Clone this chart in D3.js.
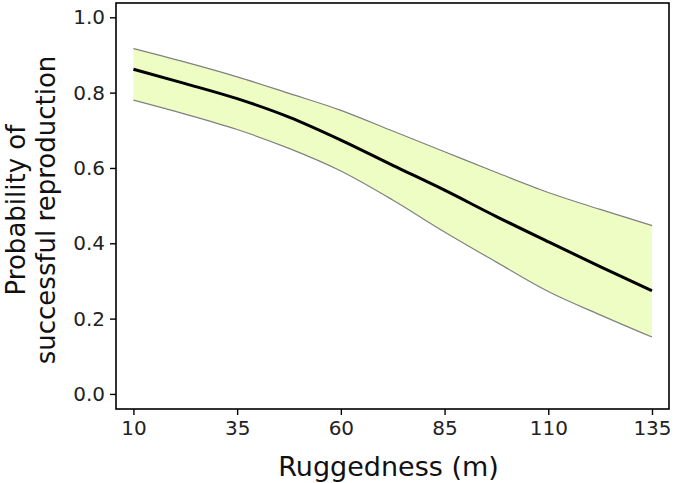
<!DOCTYPE html>
<html>
<head>
<meta charset="utf-8">
<script src="https://cdn.jsdelivr.net/npm/d3@7"></script>
<style>
  body { margin: 0; background: #fff; }
  text { font-family: "DejaVu Sans", Verdana, sans-serif; }
</style>
</head>
<body>
<svg id="chart" width="675" height="483"></svg>
<script>
// ruggedness (m) at which the fitted curve was read
const ruggedness = [10, 22.5, 35, 47.5, 60, 72.5, 85, 97.5, 110, 122.5, 135];
// fitted probability
const fit = [0.862, 0.824, 0.784, 0.735, 0.674, 0.607, 0.541, 0.471, 0.404, 0.338, 0.274];
// confidence band
const upper = [0.917, 0.881, 0.842, 0.798, 0.753, 0.698, 0.643, 0.588, 0.535, 0.490, 0.447];
const lower = [0.780, 0.743, 0.702, 0.652, 0.592, 0.515, 0.430, 0.350, 0.272, 0.210, 0.151];

const xTicks = [10, 35, 60, 85, 110, 135];
const yTicks = [0, 0.2, 0.4, 0.6, 0.8, 1.0];

const rows = ruggedness.map(function (r, i) {
  return { r: r, fit: fit[i], hi: upper[i], lo: lower[i] };
});

const svg = d3.select("#chart");
const plot = { left: 116, right: 669, top: 3, bottom: 409 };

const x = d3.scaleLinear().domain([5.8, 139.1]).range([plot.left, plot.right]);
const y = d3.scaleLinear().domain([-0.04, 1.038]).range([plot.bottom, plot.top]);

// band
const area = d3.area()
  .x(function (d) { return x(d.r); })
  .y0(function (d) { return y(d.lo); })
  .y1(function (d) { return y(d.hi); })
  .curve(d3.curveMonotoneX);

svg.append("path")
  .datum(rows)
  .attr("d", area)
  .attr("fill", "#eefdc3");

const lineHi = d3.line()
  .x(function (d) { return x(d.r); })
  .y(function (d) { return y(d.hi); })
  .curve(d3.curveMonotoneX);
const lineLo = d3.line()
  .x(function (d) { return x(d.r); })
  .y(function (d) { return y(d.lo); })
  .curve(d3.curveMonotoneX);
const lineFit = d3.line()
  .x(function (d) { return x(d.r); })
  .y(function (d) { return y(d.fit); })
  .curve(d3.curveMonotoneX);

svg.append("path").datum(rows).attr("d", lineHi)
  .attr("fill", "none").attr("stroke", "#808080").attr("stroke-width", 1.2);
svg.append("path").datum(rows).attr("d", lineLo)
  .attr("fill", "none").attr("stroke", "#808080").attr("stroke-width", 1.2);
svg.append("path").datum(rows).attr("d", lineFit)
  .attr("fill", "none").attr("stroke", "#000").attr("stroke-width", 3);

// panel border
svg.append("rect")
  .attr("x", plot.left).attr("y", plot.top)
  .attr("width", plot.right - plot.left).attr("height", plot.bottom - plot.top)
  .attr("fill", "none").attr("stroke", "#000").attr("stroke-width", 1.6);

// axes
const xAxis = svg.append("g")
  .attr("transform", "translate(0," + plot.bottom + ")")
  .call(d3.axisBottom(x).tickValues(xTicks).tickSize(6).tickPadding(6));
const yAxis = svg.append("g")
  .attr("transform", "translate(" + plot.left + ",0)")
  .call(d3.axisLeft(y).tickValues(yTicks).tickFormat(d3.format(".1f")).tickSize(6).tickPadding(5));

[xAxis, yAxis].forEach(function (g) {
  g.select(".domain").remove();
  g.selectAll(".tick line").attr("stroke", "#000").attr("stroke-width", 1.4);
  g.selectAll(".tick text").attr("fill", "#222").style("font-size", "20px");
});

// titles
svg.append("text")
  .attr("x", (plot.left + plot.right) / 2 - 4)
  .attr("y", 476)
  .attr("text-anchor", "middle")
  .style("font-size", "27px")
  .attr("fill", "#111")
  .text("Ruggedness (m)");

const yTitle = svg.append("text")
  .attr("transform", "translate(0,210) rotate(-90)")
  .attr("text-anchor", "middle")
  .style("font-size", "26px")
  .attr("fill", "#111");
yTitle.append("tspan").attr("x", 0).attr("y", 25).text("Probability of");
yTitle.append("tspan").attr("x", 0).attr("y", 55).text("successful reproduction");
</script>
</body>
</html>
